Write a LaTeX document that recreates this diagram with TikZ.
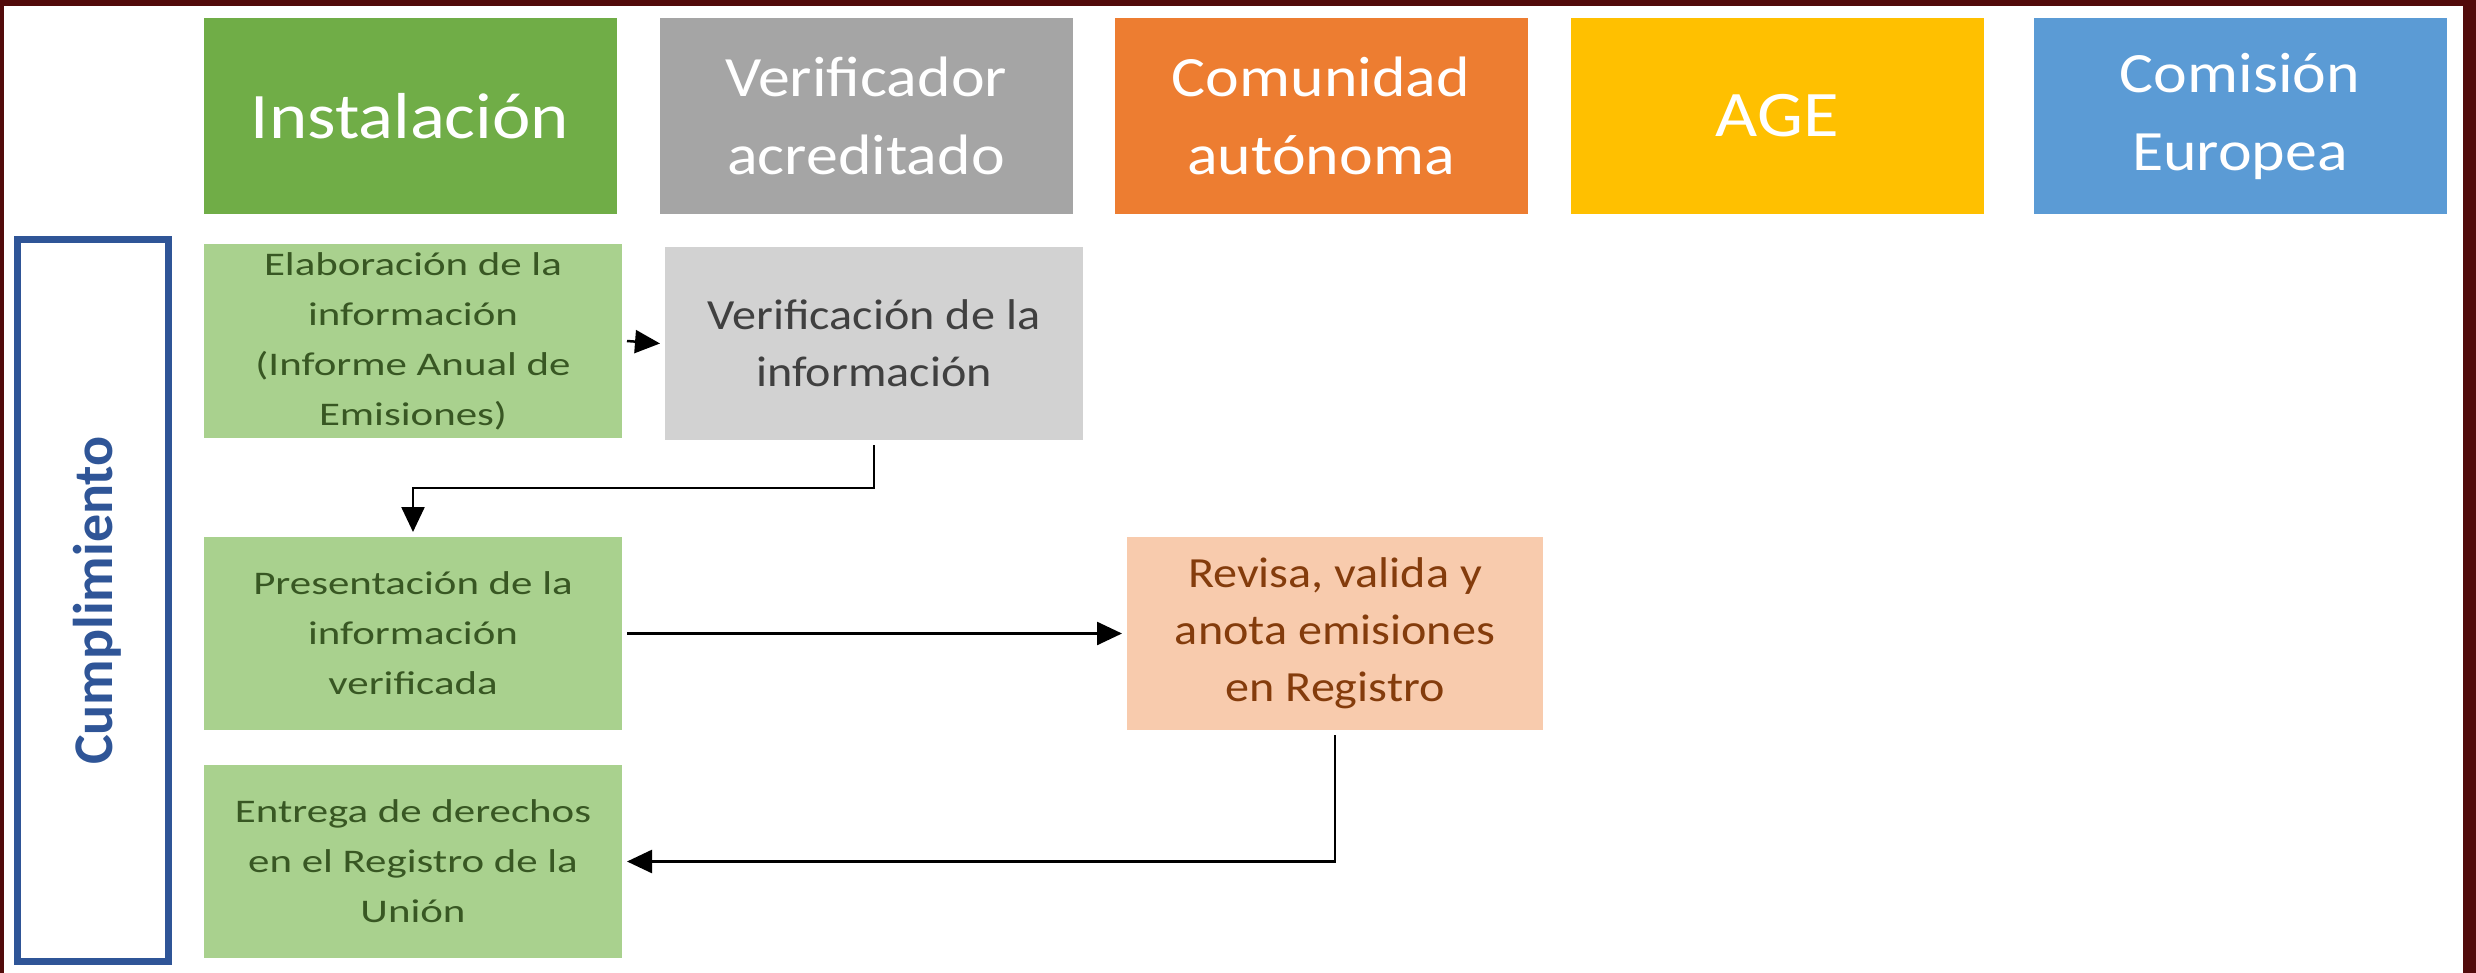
\documentclass[tikz,border=0pt]{standalone}
\usepackage{fontspec}
\setmainfont{Carlito}[FakeStretch=1.12]
\newfontfamily\ancha{Carlito}[FakeStretch=1.3]
\newfontfamily\recta{Carlito}
\usetikzlibrary{arrows.meta}
\definecolor{marco}{HTML}{520B0B}
\definecolor{verdeinst}{HTML}{70AD47}
\definecolor{grisverif}{HTML}{A5A5A5}
\definecolor{naranjaca}{HTML}{ED7D31}
\definecolor{amarilloage}{HTML}{FFC000}
\definecolor{azulce}{HTML}{5B9BD5}
\definecolor{verdeclaro}{HTML}{A9D18E}
\definecolor{verdetexto}{HTML}{385723}
\definecolor{grisclaro}{HTML}{D2D2D2}
\definecolor{gristexto}{HTML}{404040}
\definecolor{salmon}{HTML}{F8CBAD}
\definecolor{marron}{HTML}{843C0C}
\definecolor{azulmarco}{HTML}{2F5597}
\begin{document}
\begin{tikzpicture}[
      x=1pt, y=-1pt,
      cabecera/.style={minimum width=413pt, minimum height=196pt, inner sep=0pt,
        text=white, align=center, font=\fontsize{57}{78}\selectfont},
      unalinea/.style={cabecera, font=\fontsize{65}{78}\selectfont},
      paso/.style={minimum width=418pt, minimum height=193pt, inner sep=0pt,
        outer sep=5pt, align=center},
      pasoinst/.style={paso, fill=verdeclaro, text=verdetexto,
        font=\ancha\fontsize{33}{50}\selectfont},
      flecha/.style={-{Triangle[length=25pt, width=23pt]}, line width=2.5pt}
    ]
    \useasboundingbox (0,0) rectangle (2476,973);
    \fill[marco] (0,0) rectangle (2476,973);
    \fill[white] (4,6) rectangle (2463,973);

    \node[unalinea, fill=verdeinst] (inst) at (410,116) {Instalación};
    \node[cabecera, fill=grisverif] (verif) at (866,116) {Verificador\\acreditado};
    \node[cabecera, fill=naranjaca] (ccaa) at (1321,116) {Comunidad\\autónoma};
    \node[unalinea, fill=amarilloage] (age) at (1777,116) {AGE};
    \node[cabecera, fill=azulce] (ce) at (2240,116) {Comisión\\Europea};

    \node[draw=azulmarco, line width=6.5pt, minimum width=722pt, minimum height=151pt,
      rotate=90, text=azulmarco, text depth=0pt,
      font=\recta\bfseries\fontsize{56}{60}\selectfont]
      (cumpl) at (93,600.5) {Cumplimiento};

    \node[pasoinst] (elab) at (413,341)
      {Elaboración de la\\información\\(Informe Anual de\\Emisiones)};
    \node[paso, fill=grisclaro, text=gristexto, font=\fontsize{43}{57}\selectfont]
      (verifinfo) at (874,343.5) {Verificación de la\\información};
    \node[pasoinst] (present) at (413,633.5)
      {Presentación de la\\información\\verificada};
    \node[paso, minimum width=416pt, fill=salmon, text=marron,
      font=\fontsize{43}{57}\selectfont]
      (revisa) at (1335,633.5) {Revisa, valida y\\anota emisiones\\en Registro};
    \node[pasoinst] (entrega) at (413,861.5)
      {Entrega de derechos\\en el Registro de la\\Unión};

    \draw[flecha] (elab.east) -- (verifinfo.west);
    \draw[flecha] (verifinfo.south) -- ++(0,43) -| (present.north);
    \draw[flecha] (present.east) -- (revisa.west);
    \draw[flecha] (revisa.south) |- (entrega.east);
\end{tikzpicture}
\end{document}
